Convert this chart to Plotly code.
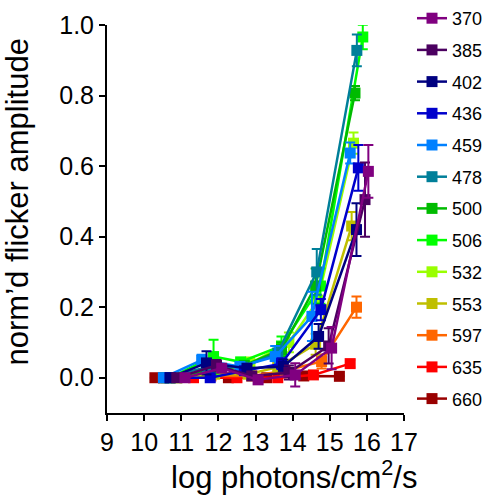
import plotly.graph_objects as go

labels = ["370", "385", "402", "436", "459", "478", "500", "506", "532", "553", "597", "635", "660"]
colors = ["#800080", "#4B0060", "#000080", "#0000CC", "#0080FF", "#007F99", "#00BB00",
          "#00FF00", "#99FF00", "#BFBF00", "#FF6600", "#FF0000", "#990000"]

x370 = [11.10, 12.09, 13.07, 14.07, 15.05, 16.04]
y370 = [0.0, 0.027, -0.006, 0.008, 0.084, 0.585]
e370 = [0.0, 0.01, 0.008, 0.033, 0.06, 0.075]

x385 = [10.88, 11.95, 12.90, 13.90, 14.97, 15.95]
y385 = [0.0, 0.035, 0.005, 0.015, 0.09, 0.505]
e385 = [0.0, 0.015, 0.01, 0.02, 0.05, 0.105]

x402 = [10.70, 11.68, 12.77, 13.75, 14.70, 15.72]
y402 = [0.0, 0.042, 0.027, 0.032, 0.117, 0.42]
e402 = [0.0, 0.033, 0.01, 0.02, 0.035, 0.075]

x436 = [10.70, 11.78, 12.70, 13.70, 14.76, 15.77]
y436 = [0.0, 0.0, 0.02, 0.04, 0.193, 0.595]
e436 = [0.0, 0.01, 0.01, 0.015, 0.03, 0.065]

x459 = [10.52, 11.55, 12.58, 13.53, 14.52, 15.55]
y459 = [0.0, 0.05, 0.032, 0.06, 0.174, 0.637]
e459 = [0.0, 0.015, 0.01, 0.03, 0.07, 0.03]

x478 = [10.52, 11.70, 12.65, 13.60, 14.65, 15.73]
y478 = [0.0, 0.03, 0.03, 0.07, 0.30, 0.928]
e478 = [0.0, 0.01, 0.01, 0.02, 0.065, 0.045]

x500 = [10.60, 11.80, 12.70, 13.70, 14.62, 15.68]
y500 = [0.0, 0.02, 0.035, 0.08, 0.26, 0.807]
e500 = [0.0, 0.01, 0.01, 0.02, 0.05, 0.02]

x506 = [10.70, 11.87, 12.60, 13.70, 14.75, 15.89]
y506 = [0.0, 0.06, 0.045, 0.09, 0.26, 0.966]
e506 = [0.0, 0.048, 0.01, 0.027, 0.05, 0.035]

x532 = [10.88, 11.90, 12.85, 13.90, 14.68, 15.64]
y532 = [0.0, 0.015, 0.04, 0.10, 0.22, 0.665]
e532 = [0.0, 0.01, 0.017, 0.028, 0.04, 0.03]

x553 = [10.88, 11.90, 12.80, 13.60, 14.62, 15.59]
y553 = [0.0, 0.01, 0.01, 0.03, 0.095, 0.43]
e553 = [0.0, 0.01, 0.01, 0.01, 0.03, 0.04]

x597 = [10.52, 11.80, 12.90, 13.80, 14.78, 15.72]
y597 = [0.0, 0.005, 0.005, 0.02, 0.046, 0.20]
e597 = [0.0, 0.005, 0.005, 0.01, 0.02, 0.03]

x635 = [10.52, 11.33, 12.50, 13.60, 14.56, 15.55]
y635 = [0.0, 0.0, 0.0, 0.0, 0.008, 0.04]
e635 = [0.0, 0.0, 0.0, 0.0, 0.005, 0.01]

x660 = [10.29, 12.27, 13.30, 14.30, 15.26]
y660 = [0.0, 0.0, 0.0, 0.005, 0.004]
e660 = [0.0, 0.0, 0.0, 0.0, 0.0]

xs = [x370, x385, x402, x436, x459, x478, x500, x506, x532, x553, x597, x635, x660]
ys = [y370, y385, y402, y436, y459, y478, y500, y506, y532, y553, y597, y635, y660]
es = [e370, e385, e402, e436, e459, e478, e500, e506, e532, e553, e597, e635, e660]

x_ticks = [9, 10, 11, 12, 13, 14, 15, 16, 17]
y_ticks = [0.0, 0.2, 0.4, 0.6, 0.8, 1.0]

FONT = "Liberation Sans, Arial, sans-serif"

fig = go.Figure()
# draw the last series first so that 370 sits on top
for i in reversed(range(len(labels))):
    fig.add_trace(go.Scatter(
        x=xs[i], y=ys[i], name=labels[i], mode="lines+markers",
        line=dict(color=colors[i], width=2.5),
        marker=dict(symbol="square", size=11, color=colors[i]),
        error_y=dict(type="data", array=es[i], color=colors[i], thickness=2, width=5),
        legendgroup=labels[i], legendrank=i + 1,
    ))

fig.update_layout(
    width=487, height=499,
    margin=dict(l=107, r=83, t=25, b=86, autoexpand=False),
    paper_bgcolor="white", plot_bgcolor="white",
    font=dict(family=FONT, color="black"),
    showlegend=True,
    legend=dict(xref="container", yref="container", x=0.846, xanchor="left",
                y=1.0, yanchor="top", maxheight=1.0,
                font=dict(size=18, family=FONT), tracegroupgap=5.3,
                bgcolor="rgba(0,0,0,0)"),
    xaxis=dict(range=[9, 17], tickvals=x_ticks, ticks="outside", ticklen=6, tickwidth=2,
               showline=True, linewidth=2, linecolor="black", showgrid=False, zeroline=False,
               tickfont=dict(size=25), tickcolor="black", automargin=False),
    yaxis=dict(range=[-0.1, 1.0], tickvals=y_ticks, tickformat=".1f", ticks="outside",
               ticklen=6, tickwidth=2, showline=True, linewidth=2, linecolor="black",
               showgrid=False, zeroline=False, tickfont=dict(size=25), tickcolor="black",
               automargin=False),
    annotations=[
        dict(text="log photons/cm<sup>2</sup>/s", xref="paper", yref="paper",
             x=0.63, y=-0.16, xanchor="center", yanchor="middle", showarrow=False,
             font=dict(size=31, family=FONT)),
        dict(text="norm\u2019d flicker amplitude", xref="paper", yref="paper",
             x=-0.30, y=0.545, xanchor="center", yanchor="middle", showarrow=False,
             textangle=-90, font=dict(size=31, family=FONT)),
    ],
)

fig.write_html("out.html")
